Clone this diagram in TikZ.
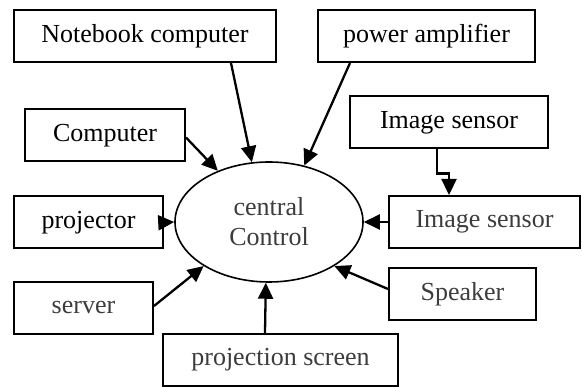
\documentclass[tikz,border=0pt]{standalone}
\usepackage{fontspec}
\setmainfont{Liberation Serif}
\usetikzlibrary{shapes.geometric,arrows.meta}
\definecolor{txtgray}{HTML}{3C3C3C}
\tikzset{
  box/.style={draw,line width=2pt,minimum height=52pt,inner sep=0pt},
  arr/.style={line width=2.3pt,-{Triangle[length=16pt,width=15pt]}}
}
\begin{document}
\begin{tikzpicture}[x=1pt,y=-1pt,font=\fontsize{26}{30}\selectfont]
\useasboundingbox (0,0) rectangle (582,387);

% boxes
\node[box,minimum width=262pt] (note) at (145,36) {Notebook computer};
\node[box,minimum width=217pt] (amp) at (426.5,36) {power amplifier};
\node[box,minimum width=160pt] (comp) at (105,135.5) {Computer};
\node[box,minimum width=198pt] (sensA) at (449,122.5) {Image sensor};
\node[box,minimum width=149pt] (proj) at (88.5,222.5) {projector};
\node[box,minimum width=191pt,text=txtgray] (sensB) at (484.5,222) {Image sensor};
\node[box,minimum width=139pt,text=txtgray] (serv) at (83.5,308) {server};
\node[box,minimum width=147pt,text=txtgray] (spk) at (462.5,294) {Speaker};
\node[box,minimum width=235pt,text=txtgray] (scr) at (280.5,360) {projection screen};

% centre
\node[draw,ellipse,line width=1.6pt,minimum width=188pt,minimum height=120pt,
      inner sep=0pt,align=center,text=txtgray] (ctrl) at (269,222) {central\\Control};

% links
\draw[arr] ([xshift=-46pt]note.south east) -- (ctrl.106);
\draw[arr] ([xshift=33pt]amp.south west) -- (ctrl.58);
\draw[arr] ([yshift=-2pt]comp.east) -- (ctrl.135);
\draw[arr] (proj.east) -- (ctrl.west);
\draw[arr] (sensB.west) -- (ctrl.east);
\draw[arr] ([yshift=2pt]serv.east) -- (ctrl.214);
\draw[arr] ([yshift=5pt]spk.west) -- (ctrl.326);
\draw[arr] ([xshift=-15.5pt]scr.north) -- (ctrl.267);
\draw[arr] ([xshift=-12pt]sensA.south) -- ++(0,24) -| (sensA.south |- sensB.north);
\end{tikzpicture}
\end{document}
